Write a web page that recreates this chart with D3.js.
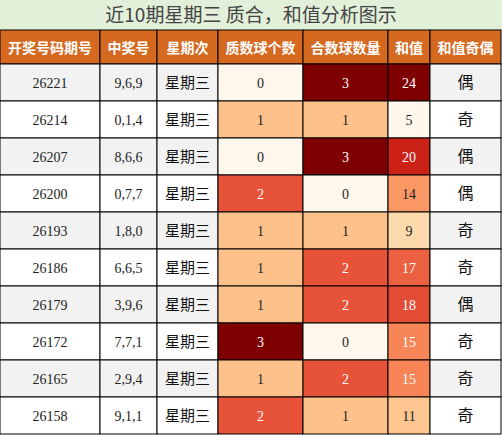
<!DOCTYPE html>
<html><head><meta charset="utf-8">
<script src="https://cdn.jsdelivr.net/npm/d3@7"></script>
<style>body{margin:0;background:#fff}</style>
</head><body>
<svg id="chart" width="502" height="435"></svg>
<script>
var title = "近10期星期三 质合，和值分析图示";
var headers = ["开奖号码期号","中奖号","星期次","质数球个数","合数球数量","和值","和值奇偶"];
var issues = ["26221","26214","26207","26200","26193","26186","26179","26172","26165","26158"];
var numbers = ["9,6,9","0,1,4","8,6,6","0,7,7","1,8,0","6,6,5","3,9,6","7,7,1","2,9,4","9,1,1"];
var weekday = ["星期三","星期三","星期三","星期三","星期三","星期三","星期三","星期三","星期三","星期三"];
var primeCount = [0,1,0,2,1,1,1,3,1,2];
var compCount = [3,1,3,0,1,2,2,0,2,1];
var sums = [24,5,20,14,9,17,18,15,15,11];
var parity = ["偶","奇","偶","偶","奇","奇","偶","奇","奇","奇"];

var colEdges = [0,100,157,218,303,388,430,501];
var svg = d3.select("#chart");
var cjk = "'Noto Sans CJK SC', sans-serif";
var serif = "'Liberation Serif', 'DejaVu Serif', serif";

var y = d3.scaleBand().domain(d3.range(10)).range([64,434]);
var cntColor = d3.scaleSequential(d3.interpolateOrRd).domain([0,3]);
var sumColor = d3.scaleSequential(d3.interpolateOrRd).domain([d3.min(sums), d3.max(sums)]);

// title
svg.append("rect").attr("x",0).attr("y",0).attr("width",502).attr("height",30).attr("fill","#e2efd9");
svg.append("text").attr("x",251).attr("y",22).attr("text-anchor","middle")
  .style("font-family",cjk).style("font-size","19px").attr("fill","#444").text(title);

// header
headers.forEach(function(h,i){
  svg.append("rect").attr("x",colEdges[i]).attr("y",30).attr("width",colEdges[i+1]-colEdges[i]).attr("height",34)
    .attr("fill","#d4691f").attr("stroke","#000");
  svg.append("text").attr("x",(colEdges[i]+colEdges[i+1])/2).attr("y",53).attr("text-anchor","middle")
    .style("font-family",cjk).style("font-size","14px").style("font-weight","bold").attr("fill","#fff").text(h);
});

function cell(col,row,txt,fill,color,font,size){
  svg.append("rect").attr("x",colEdges[col]).attr("y",y(row)).attr("width",colEdges[col+1]-colEdges[col])
    .attr("height",y.bandwidth()).attr("fill",fill).attr("stroke","#000");
  svg.append("text").attr("x",(colEdges[col]+colEdges[col+1])/2).attr("y",y(row)+y.bandwidth()/2+5)
    .attr("text-anchor","middle").style("font-family",font).style("font-size",size).attr("fill",color).text(txt);
}

d3.range(10).forEach(function(r){
  var bg = r%2==0 ? "#f2f2f2" : "#fff";
  cell(0,r,issues[r],bg,"#222",serif,"14px");
  cell(1,r,numbers[r],bg,"#222",serif,"14px");
  cell(2,r,weekday[r],bg,"#111",cjk,"15px");
  cell(3,r,primeCount[r],cntColor(primeCount[r]),primeCount[r]>=2?"#fff":"#222",serif,"14px");
  cell(4,r,compCount[r],cntColor(compCount[r]),compCount[r]>=2?"#fff":"#222",serif,"14px");
  cell(5,r,sums[r],sumColor(sums[r]),sums[r]>=15?"#fff":"#222",serif,"14px");
  cell(6,r,parity[r],bg,"#111",cjk,"16px");
});
</script>
</body></html>
